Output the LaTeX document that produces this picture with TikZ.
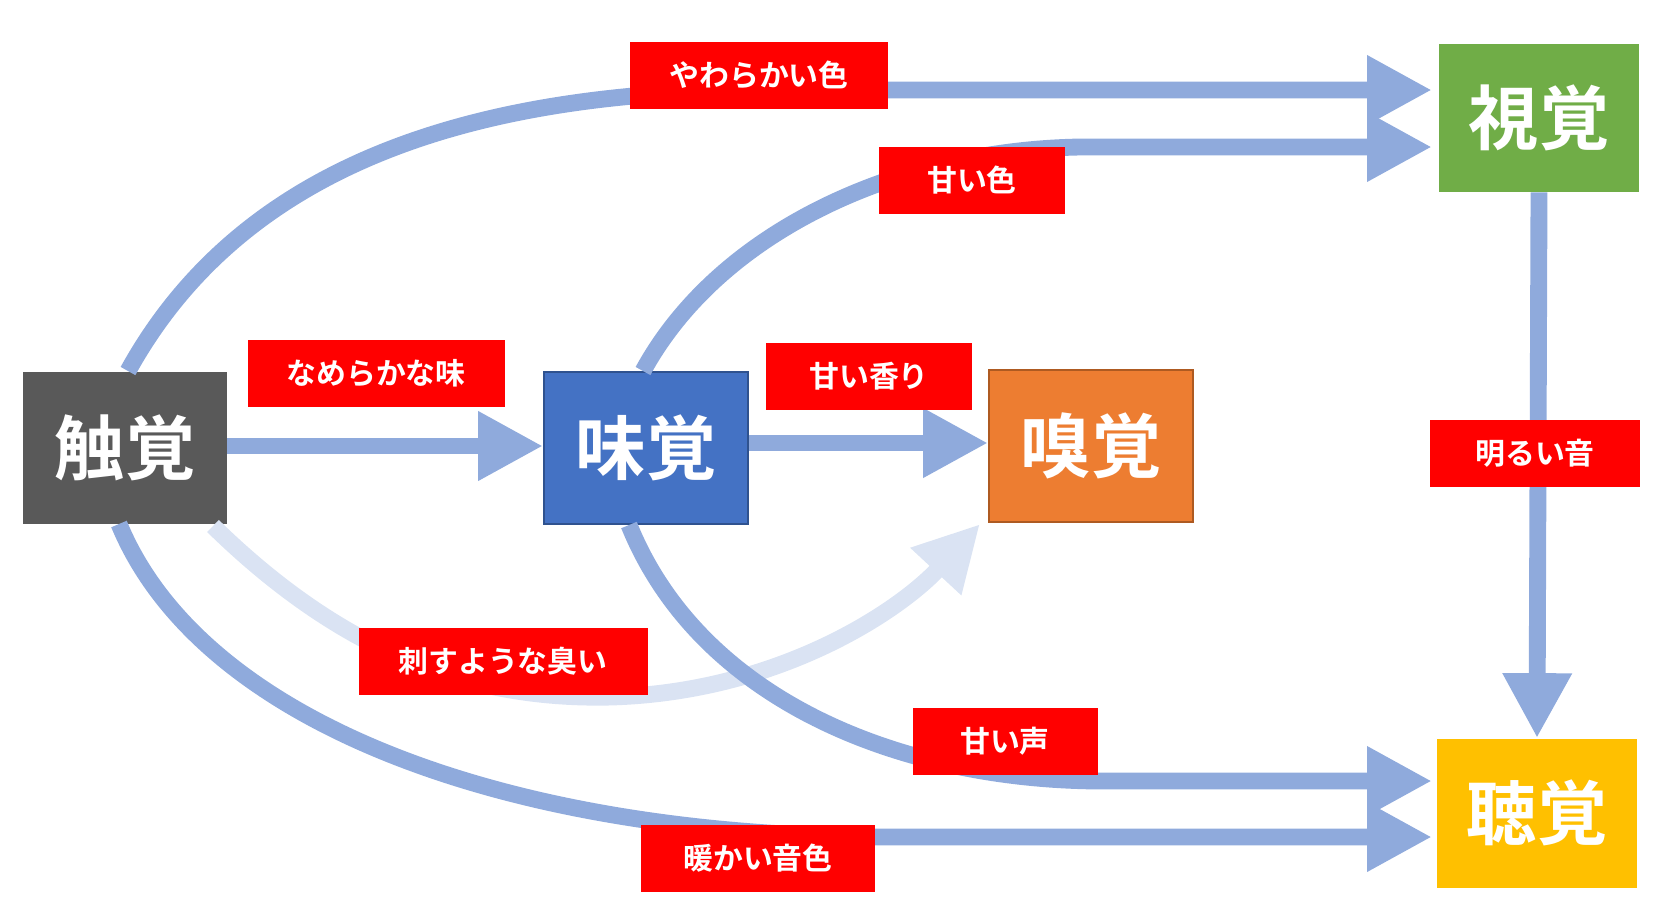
\documentclass[tikz,border=0pt]{standalone}
\usepackage{fontspec}
\newfontfamily\jp{Noto Sans CJK JP}[BoldFont={Noto Sans CJK JP Bold}]
\usetikzlibrary{arrows.meta}
\definecolor{arr}{HTML}{8FAADC}
\definecolor{arrl}{HTML}{DAE3F3}
\definecolor{lab}{HTML}{FF0000}
\begin{document}
\begin{tikzpicture}[x=0.02cm,y=-0.02cm,
  box/.style={draw=none,minimum width=204*0.02cm,minimum height=152*0.02cm,inner sep=0,text=white,font=\jp\bfseries\fontsize{40}{40}\selectfont},
  lbl/.style={fill=lab,text=white,inner sep=0,minimum height=67*0.02cm,font=\jp\bfseries\fontsize{17}{17}\selectfont},
  con/.style={draw=arr,line width=9.6pt,-{Triangle[length=1.3cm,width=1.3cm]}}]
\useasboundingbox (0,0) rectangle (1659,914);
\node[box,fill={rgb,255:red,89;green,89;blue,89}] (t) at (125,448) {触覚};
\node[box,fill={rgb,255:red,68;green,114;blue,196},draw={rgb,255:red,47;green,82;blue,143},line width=1pt] (m) at (646,448) {味覚};
\node[box,fill={rgb,255:red,237;green,125;blue,49},draw={rgb,255:red,174;green,90;blue,33},line width=1pt] (k) at (1091,446) {嗅覚};
\node[box,fill={rgb,255:red,112;green,173;blue,71},minimum width=200*0.02cm,minimum height=148*0.02cm] (s) at (1539,118) {視覚};
\node[box,fill={rgb,255:red,255;green,192;blue,0},minimum width=200*0.02cm,minimum height=149*0.02cm] (c) at (1537,813) {聴覚};
\coordinate (s1) at (1432,90);
\coordinate (s2) at (1432,147);
\coordinate (c1) at (1432,781);
\coordinate (c2) at (1432,837);
\coordinate (t1) at (128,371);
\coordinate (t2) at (119,524);
\coordinate (t3) at (213,526);
\coordinate (m1) at (643,371);
\coordinate (m2) at (629,525);
\coordinate (k1) at (980,524);
\draw[con,draw=arrl] (t3) .. controls (350,660) and (480,700) .. (611,697) .. controls (780,692) and (900,610) .. (k1);
\draw[con] (t1) .. controls (250,150) and (500,92) .. (760,90) -- (s1);
\draw[con] (m1) .. controls (720,230) and (900,150) .. (1080,147) -- (s2);
\draw[con] (t.east |- 0,446) -- (m.west |- 0,446);
\draw[con] (m.east |- 0,443) -- (k.west |- 0,443);
\draw[con] (s.south) -- (c.north);
\draw[con] (m2) .. controls (700,700) and (900,780) .. (1100,781) -- (c1);
\draw[con] (t2) .. controls (200,720) and (500,835) .. (880,837) -- (c2);
\node[lbl,minimum width=258*0.02cm] (l1) at (759,75) {やわらかい色};
\node[lbl,minimum width=186*0.02cm] (l2) at (972,180) {甘い色};
\node[lbl,minimum width=257*0.02cm] (l3) at (376,373) {なめらかな味};
\node[lbl,minimum width=206*0.02cm] (l4) at (869,376) {甘い香り};
\node[lbl,minimum width=210*0.02cm] (l5) at (1535,453) {明るい音};
\node[lbl,minimum width=289*0.02cm] (l6) at (503,661) {刺すような臭い};
\node[lbl,minimum width=185*0.02cm] (l7) at (1005,741) {甘い声};
\node[lbl,minimum width=234*0.02cm] (l8) at (758,858) {暖かい音色};
\end{tikzpicture}
\end{document}
